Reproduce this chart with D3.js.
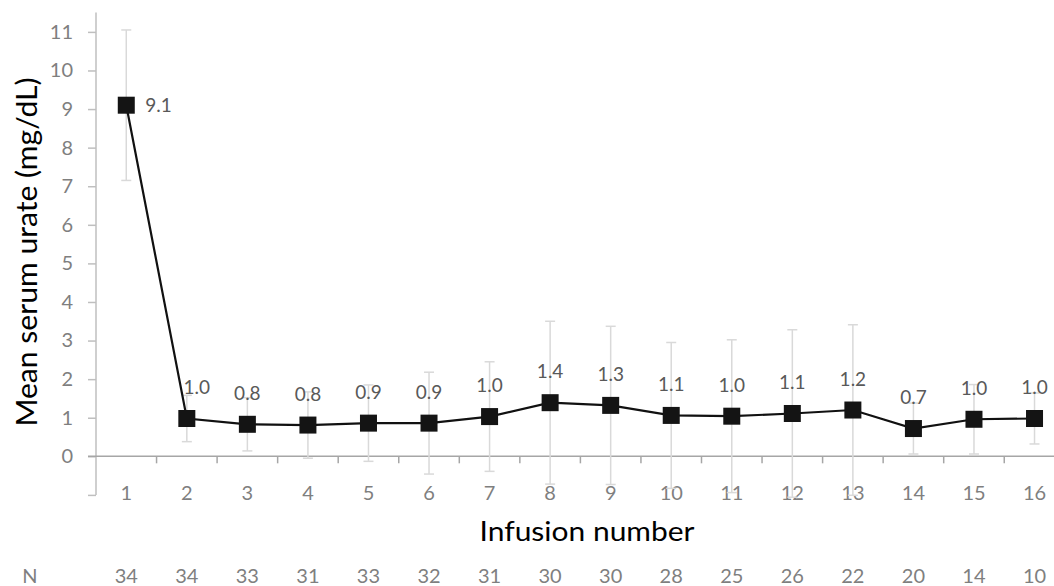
<!DOCTYPE html>
<html>
<head>
<meta charset="utf-8">
<script src="https://cdn.jsdelivr.net/npm/d3@7/dist/d3.min.js"></script>
<style>
  html, body { margin: 0; padding: 0; background: #fff; }
  svg { display: block; }
</style>
</head>
<body>
<svg id="chart" width="1054" height="586"></svg>
<script>
const infusions = [1, 2, 3, 4, 5, 6, 7, 8, 9, 10, 11, 12, 13, 14, 15, 16];
const meanUrate = [9.1, 0.98, 0.83, 0.81, 0.86, 0.86, 1.03, 1.39, 1.32, 1.06, 1.04, 1.11, 1.2, 0.72, 0.96, 0.98];
const sdUrate   = [1.95, 0.6, 0.69, 0.86, 0.99, 1.32, 1.42, 2.11, 2.05, 1.89, 1.98, 2.17, 2.21, 0.66, 0.9, 0.66];
const nPatients = [34, 34, 33, 31, 33, 32, 31, 30, 30, 28, 25, 26, 22, 20, 14, 10];
const yTicks = [0, 1, 2, 3, 4, 5, 6, 7, 8, 9, 10, 11];

const FONT = "Lato, 'Open Sans', sans-serif";
const svg = d3.select("#chart");

const x = d3.scaleBand().domain(infusions).range([96, 96 + 16 * 60.55]).padding(0);
const y = d3.scaleLinear().domain([-1, 11.5]).range([494.9, 12.6]);
const cx = d => x(d) + x.bandwidth() / 2;

// y axis
const yAxis = d3.axisLeft(y).tickValues(yTicks.concat([-1])).tickSize(8).tickPadding(15)
  .tickFormat(d => d < 0 ? "" : d);
const gy = svg.append("g").attr("transform", "translate(96,0)").call(yAxis);
gy.select(".domain").attr("stroke", "#bfbfbf").attr("stroke-width", 1.5).attr("d", `M0,${y(11.5)}V${y(-1)}`);
gy.selectAll(".tick line").attr("stroke", "#bfbfbf").attr("stroke-width", 1.5);
gy.selectAll(".tick text").attr("fill", "#7f7f7f").style("font-family", FONT).style("font-size", "20px");

// x axis at y=0
const xAxis = d3.axisBottom(x).tickSize(0).tickPadding(0).tickFormat(d => d);
const gx = svg.append("g").attr("transform", `translate(0,${y(0)})`).call(xAxis);
gx.select(".domain").attr("stroke", "#a6a6a6").attr("stroke-width", 1.5).attr("d", `M88,0H1054`);
gx.selectAll(".tick text").attr("fill", "#7f7f7f").style("font-family", FONT).style("font-size", "20px")
  .attr("y", y(-1) - y(0) - 2).attr("dy", "0.35em");
// boundary tick marks between categories
gx.selectAll("line.sep").data(infusions).enter().append("line").attr("class", "sep")
  .attr("x1", d => x(d) + x.bandwidth()).attr("x2", d => x(d) + x.bandwidth())
  .attr("y1", 0).attr("y2", 7).attr("stroke", "#a6a6a6").attr("stroke-width", 1.5);

// error bars
const eb = svg.append("g");
infusions.forEach((d, i) => {
  const hi = y(meanUrate[i] + sdUrate[i]), lo = y(meanUrate[i] - sdUrate[i]);
  eb.append("line").attr("x1", cx(d)).attr("x2", cx(d)).attr("y1", hi).attr("y2", lo)
    .attr("stroke", "#d9d9d9").attr("stroke-width", 1.5);
  [hi, lo].forEach(v => eb.append("line").attr("x1", cx(d) - 5).attr("x2", cx(d) + 5)
    .attr("y1", v).attr("y2", v).attr("stroke", "#d9d9d9").attr("stroke-width", 1.5));
});

// line
const line = d3.line().x((d, i) => cx(infusions[i])).y(d => y(d));
svg.append("path").datum(meanUrate).attr("d", line).attr("fill", "none")
  .attr("stroke", "#111").attr("stroke-width", 2.2);

// markers
svg.append("g").selectAll("rect").data(meanUrate).enter().append("rect")
  .attr("x", (d, i) => cx(infusions[i]) - 8.5).attr("y", d => y(d) - 8.5)
  .attr("width", 17).attr("height", 17).attr("fill", "#141414");

// data labels
svg.append("g").selectAll("text").data(meanUrate).enter().append("text")
  .attr("x", (d, i) => i === 0 ? cx(infusions[i]) + 19 : cx(infusions[i]) + (i === 1 ? 10 : 0))
  .attr("y", (d, i) => i === 0 ? y(d) : y(d) - 31)
  .attr("dy", "0.35em")
  .attr("text-anchor", (d, i) => i === 0 ? "start" : "middle")
  .attr("fill", "#595959").style("font-family", FONT).style("font-size", "19px")
  .text(d => d.toFixed(1));

// axis titles
svg.append("text").attr("transform", "translate(27,252) rotate(-90)")
  .attr("text-anchor", "middle").attr("dy", "0.35em")
  .attr("textLength", 349).attr("lengthAdjust", "spacingAndGlyphs")
  .style("font-family", FONT).style("font-size", "28px").attr("fill", "#000")
  .text("Mean serum urate (mg/dL)");
svg.append("text").attr("x", 587).attr("y", 532).attr("dy", "0.35em")
  .attr("text-anchor", "middle")
  .attr("textLength", 215).attr("lengthAdjust", "spacingAndGlyphs")
  .style("font-family", FONT).style("font-size", "27px").attr("fill", "#000")
  .text("Infusion number");

// N row
svg.append("text").attr("x", 30).attr("y", 576).attr("dy", "0.35em").attr("text-anchor", "middle")
  .attr("fill", "#7f7f7f").style("font-family", FONT).style("font-size", "20px").text("N");
svg.append("g").selectAll("text").data(nPatients).enter().append("text")
  .attr("x", (d, i) => cx(infusions[i])).attr("y", 576).attr("dy", "0.35em")
  .attr("text-anchor", "middle").attr("fill", "#7f7f7f")
  .style("font-family", FONT).style("font-size", "20px").text(d => d);
</script>
</body>
</html>
